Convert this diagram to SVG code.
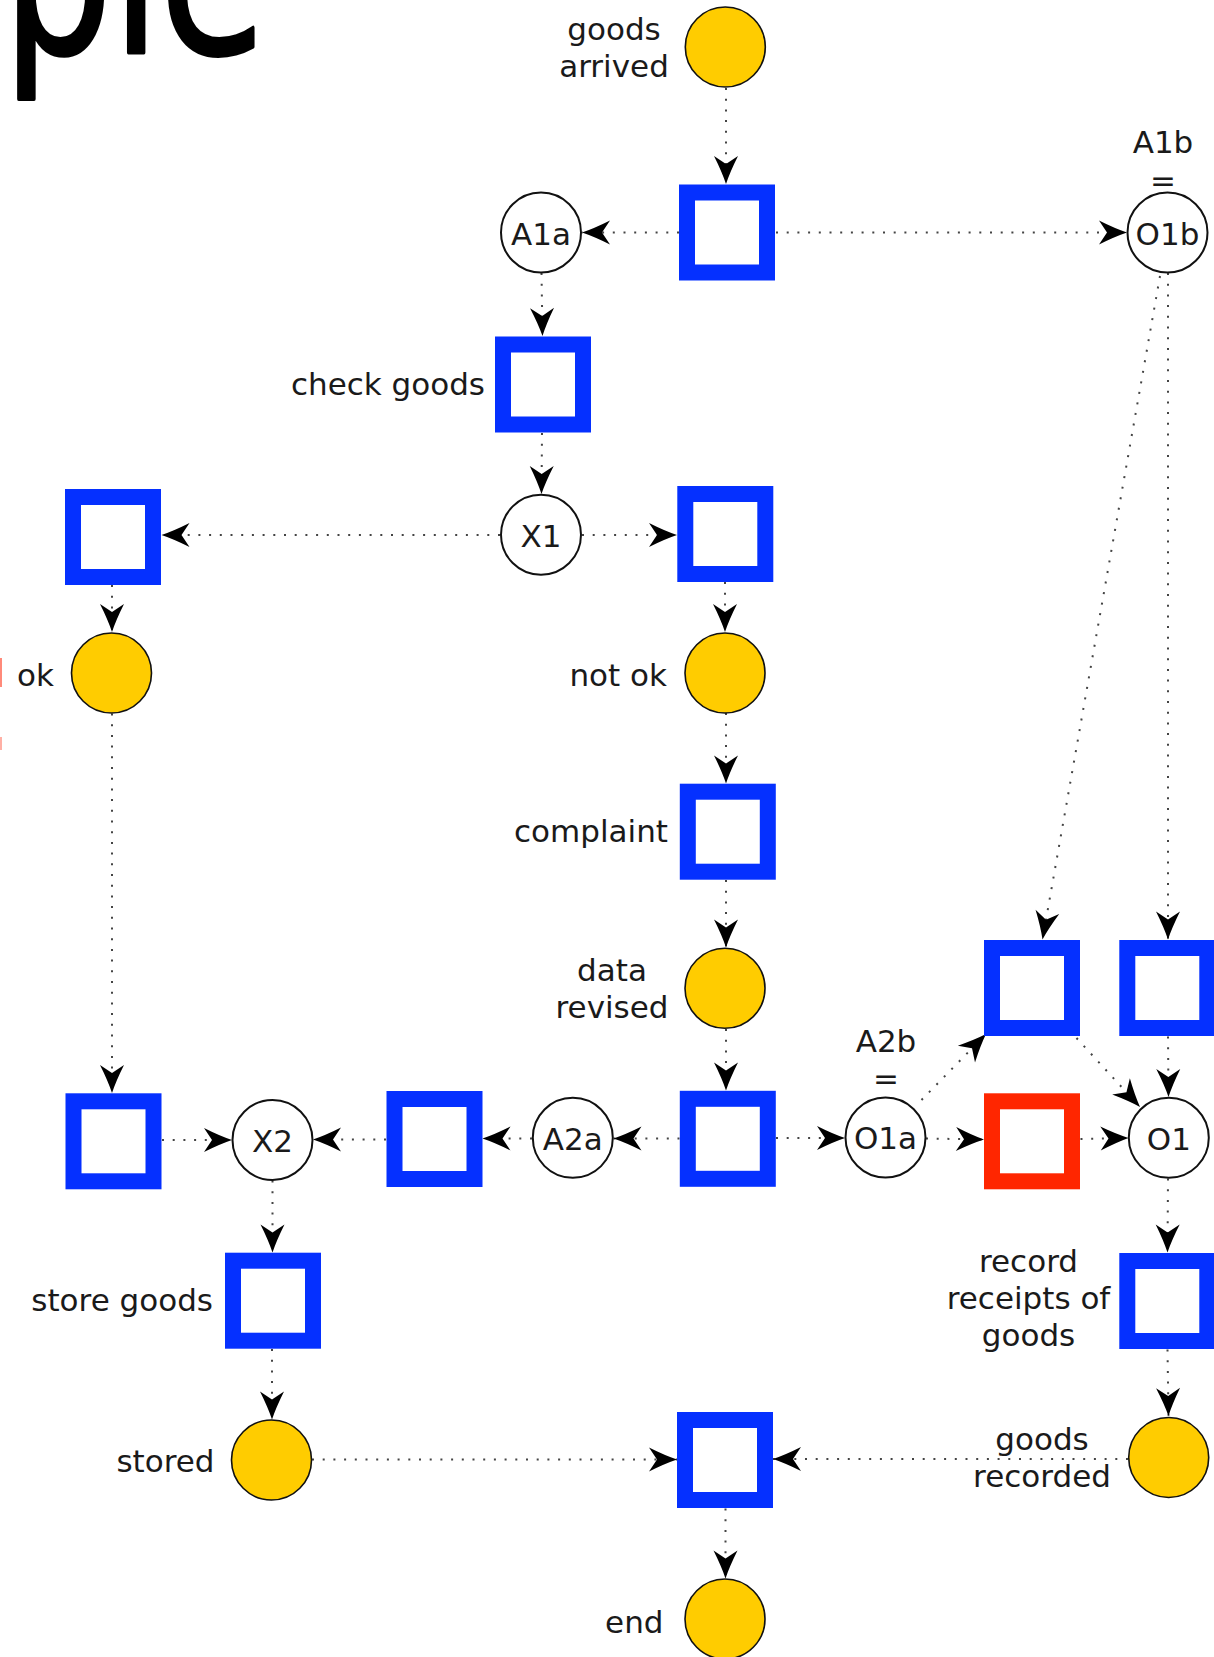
<svg xmlns="http://www.w3.org/2000/svg" width="1214" height="1657" viewBox="0 0 1214 1657">
<style>
.lbl{font-family:"DejaVu Sans",Verdana,sans-serif;font-size:31px;fill:#1a1a1a}
.in{text-anchor:middle}
.end{text-anchor:end}
.mid{text-anchor:middle}
.sq{fill:#fff;stroke:#0530ff;stroke-width:16}
.sqr{fill:#fff;stroke:#ff2600;stroke-width:16}
.pl{fill:#ffcc00;stroke:#111;stroke-width:1.6}
.op{fill:#fff;stroke:#111;stroke-width:2}
.e{fill:none;stroke:#444;stroke-width:2;stroke-dasharray:2 8.7;marker-end:url(#ah)}
</style>
<defs>
<marker id="ah" markerUnits="userSpaceOnUse" viewBox="0 0 30 26" markerWidth="30" markerHeight="26" refX="29" refY="13" orient="auto">
<path d="M29,13 Q17,9 1,1 L9,13 L1,25 Q17,17 29,13 Z" fill="#000" stroke="none"/>
</marker>
</defs>
<rect width="1214" height="1657" fill="#fff"/>
<text transform="translate(3,53) scale(1,1.3)" x="0" y="0" style="font-family:'DejaVu Sans',sans-serif;font-size:172px;fill:#000;stroke:#000;stroke-width:3;stroke-linejoin:round">ple</text>
<rect x="0" y="658" width="2" height="29" fill="#ff8a7a"/>
<rect x="0" y="737" width="2" height="13" fill="#ffb0a5"/>
<g id="connectors">
<line class="e" x1="726" y1="88" x2="726" y2="184"/>
<line class="e" x1="679" y1="232.5" x2="582" y2="232.5"/>
<line class="e" x1="776" y1="232.5" x2="1127" y2="232.5"/>
<line class="e" x1="541.5" y1="273" x2="542.5" y2="336"/>
<line class="e" x1="542" y1="433" x2="541.5" y2="494"/>
<line class="e" x1="500" y1="535" x2="161.5" y2="535"/>
<line class="e" x1="582" y1="535" x2="677" y2="535"/>
<line class="e" x1="112" y1="585" x2="112" y2="632"/>
<line class="e" x1="725" y1="582" x2="725" y2="632"/>
<line class="e" x1="726" y1="713" x2="726" y2="783.5"/>
<line class="e" x1="726" y1="880" x2="726" y2="947.5"/>
<line class="e" x1="726" y1="1029" x2="726" y2="1090.5"/>
<line class="e" x1="679.5" y1="1138.5" x2="613.5" y2="1138.5"/>
<line class="e" x1="776" y1="1138" x2="845" y2="1138"/>
<line class="e" x1="532" y1="1138.5" x2="482.5" y2="1138.5"/>
<line class="e" x1="386" y1="1139.5" x2="313" y2="1139.5"/>
<line class="e" x1="162" y1="1140" x2="232" y2="1140"/>
<line class="e" x1="112" y1="713.5" x2="112" y2="1093"/>
<line class="e" x1="272.5" y1="1180.5" x2="272.5" y2="1252.5"/>
<line class="e" x1="272" y1="1349" x2="272" y2="1419.5"/>
<line class="e" x1="312" y1="1459.5" x2="677" y2="1459.5"/>
<line class="e" x1="1128" y1="1459" x2="773" y2="1459"/>
<line class="e" x1="725.5" y1="1508.5" x2="725.5" y2="1578.5"/>
<line class="e" x1="1160" y1="276" x2="1042.5" y2="939.5"/>
<line class="e" x1="1168" y1="273" x2="1168" y2="939.5"/>
<line class="e" x1="921.5" y1="1100" x2="986" y2="1034"/>
<line class="e" x1="926" y1="1138.5" x2="984" y2="1139.5"/>
<line class="e" x1="1080.5" y1="1139" x2="1128.5" y2="1138"/>
<line class="e" x1="1076.5" y1="1038" x2="1140" y2="1107"/>
<line class="e" x1="1168" y1="1036.5" x2="1168.5" y2="1097"/>
<line class="e" x1="1168" y1="1178.5" x2="1167.5" y2="1252.5"/>
<line class="e" x1="1167.5" y1="1349.5" x2="1168.5" y2="1416"/>
</g>
<g id="goods_arrived"><circle class="pl" cx="725.3" cy="47" r="40"/>
<text class="lbl mid" x="614" y="40">goods</text><text class="lbl mid" x="614" y="77">arrived</text></g>
<g id="t1"><rect class="sq" x="687" y="192.5" width="80" height="80"/></g>
<g id="A1a"><circle class="op" cx="541" cy="232.5" r="40"/><text class="lbl in" x="541" y="244.5">A1a</text></g>
<g id="O1b"><circle class="op" cx="1167.5" cy="232.5" r="40"/><text class="lbl in" x="1167.5" y="244.5">O1b</text>
<text class="lbl mid" x="1163" y="153">A1b</text><text class="lbl mid" x="1163" y="191">=</text></g>
<g id="check_goods"><rect class="sq" x="503" y="344.5" width="80" height="80"/><text class="lbl end" x="485" y="395">check goods</text></g>
<g id="X1"><circle class="op" cx="541" cy="534.7" r="40"/><text class="lbl in" x="541" y="546.7">X1</text></g>
<g id="l1"><rect class="sq" x="73" y="497" width="80" height="80"/></g>
<g id="r1"><rect class="sq" x="685.3" y="494" width="80" height="80"/></g>
<g id="ok"><circle class="pl" cx="111.5" cy="673" r="40"/><text class="lbl" x="17" y="686">ok</text></g>
<g id="not_ok"><circle class="pl" cx="725" cy="673" r="40"/><text class="lbl end" x="667" y="686">not ok</text></g>
<g id="complaint"><rect class="sq" x="687.8" y="791.7" width="80" height="80"/><text class="lbl end" x="668" y="842">complaint</text></g>
<g id="data_revised"><circle class="pl" cx="725" cy="988.3" r="40"/>
<text class="lbl mid" x="612" y="980.5">data</text><text class="lbl mid" x="612" y="1018">revised</text></g>
<g id="m"><rect class="sq" x="687.8" y="1098.8" width="80" height="80"/></g>
<g id="A2a"><circle class="op" cx="572.8" cy="1137.8" r="40"/><text class="lbl in" x="572.8" y="1149.5">A2a</text></g>
<g id="O1a"><circle class="op" cx="885.5" cy="1137.5" r="40"/><text class="lbl in" x="885.5" y="1149.3">O1a</text>
<text class="lbl mid" x="886" y="1052">A2b</text><text class="lbl mid" x="886" y="1089">=</text></g>
<g id="u1"><rect class="sq" x="992" y="948" width="80" height="80"/></g>
<g id="u2"><rect class="sq" x="1127.3" y="948" width="80" height="80"/></g>
<g id="red"><rect class="sqr" x="992" y="1101.3" width="80" height="80"/></g>
<g id="O1"><circle class="op" cx="1168.8" cy="1137.8" r="40"/><text class="lbl in" x="1168.8" y="1149.6">O1</text></g>
<g id="lb"><rect class="sq" x="73.5" y="1101.3" width="80" height="80"/></g>
<g id="X2"><circle class="op" cx="272.5" cy="1140" r="40"/><text class="lbl in" x="272.5" y="1152">X2</text></g>
<g id="sq2"><rect class="sq" x="394.5" y="1099" width="80" height="80"/></g>
<g id="store_goods"><rect class="sq" x="233" y="1260.7" width="80" height="80"/><text class="lbl end" x="213" y="1311">store goods</text></g>
<g id="stored"><circle class="pl" cx="271.5" cy="1460" r="40"/><text class="lbl end" x="214.5" y="1472">stored</text></g>
<g id="b"><rect class="sq" x="685" y="1420" width="80" height="80"/></g>
<g id="end"><circle class="pl" cx="725" cy="1619" r="40"/><text class="lbl end" x="663.5" y="1633">end</text></g>
<g id="record_receipts"><rect class="sq" x="1127.3" y="1261" width="80" height="80"/>
<text class="lbl mid" x="1028.5" y="1272">record</text><text class="lbl mid" x="1028.5" y="1309">receipts of</text><text class="lbl mid" x="1028.5" y="1346">goods</text></g>
<g id="goods_recorded"><circle class="pl" cx="1168.7" cy="1457.5" r="40"/>
<text class="lbl mid" x="1042" y="1450">goods</text><text class="lbl mid" x="1042" y="1487">recorded</text></g>
</svg>
